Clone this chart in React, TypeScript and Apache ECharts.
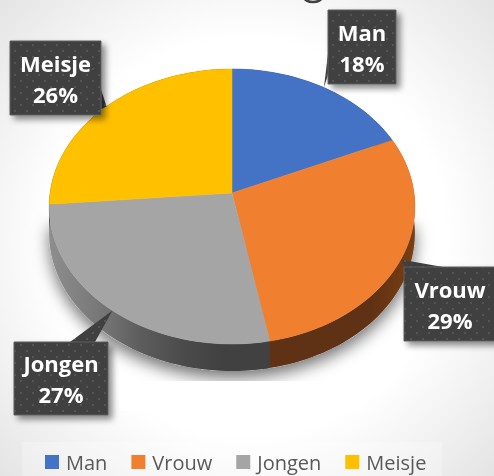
import React, { useEffect, useRef } from "react";
import * as echarts from "echarts";

const names = ["Man", "Vrouw", "Jongen", "Meisje"];
const values = [18.4, 28.6, 26.7, 26.3];
const faceColors = ["#4472C4", "#F07F30", "#A5A5A5", "#FFC000"];

const layout = { px: 232, py: 193, rx: 182, ry: 136.2, k: -0.098, wall: 27 };
const labelBoxes = [
  { x: 328, y: 10, w: 68, h: 74, tail: [[328, 54], [328, 75]] },
  { x: 404, y: 267, w: 92, h: 74, tail: [[405, 267], [443, 267]] },
  { x: 14, y: 342, w: 94, h: 73, tail: [[70, 342], [95, 342]] },
  { x: 10, y: 41, w: 91, h: 74, tail: [[100, 86], [100, 110]] },
];

const total = values.reduce((a, b) => a + b, 0);
const startOf = (i: number) => values.slice(0, i).reduce((a, b) => a + b, 0) / total;

function rim(frac: number, dy = 0): number[] {
  const t = frac * Math.PI * 2;
  const x = Math.sin(t);
  const y = -Math.cos(t);
  const d = 1 + layout.k * y;
  return [layout.px + (layout.rx * x) / d, layout.py + (layout.ry * y) / d + dy];
}
function arcPoints(a: number, b: number, dy = 0): number[][] {
  const n = Math.max(4, Math.ceil((b - a) * 200));
  const out: number[][] = [];
  for (let i = 0; i <= n; i++) out.push(rim(a + ((b - a) * i) / n, dy));
  return out;
}
function wallFill(i: number): any {
  if (i === 2) {
    return new echarts.graphic.LinearGradient(0, 0, 1, 0, [
      { offset: 0, color: "#8e8e8e" },
      { offset: 0.25, color: "#757575" },
      { offset: 0.42, color: "#5c5c5c" },
      { offset: 0.62, color: "#4a4a4a" },
      { offset: 0.78, color: "#414141" },
      { offset: 1, color: "#414141" },
    ]);
  }
  if (i === 1) {
    return new echarts.graphic.LinearGradient(0, 0, 1, 0, [
      { offset: 0, color: "#5f3115" },
      { offset: 0.7, color: "#5f3115" },
      { offset: 1, color: "#7a3f12" },
    ]);
  }
  return "#333333";
}
function dotTile(): HTMLCanvasElement {
  const c = document.createElement("canvas");
  c.width = 12;
  c.height = 12;
  const g = c.getContext("2d")!;
  g.fillStyle = "#404040";
  g.fillRect(0, 0, 12, 12);
  g.fillStyle = "#555555";
  g.fillRect(2, 2, 2, 2);
  g.fillRect(8, 8, 2, 2);
  return c;
}

export default function App() {
  const ref = useRef<HTMLDivElement>(null);
  useEffect(() => {
    const chart = echarts.init(ref.current!, undefined, { renderer: "svg" });
    const tile = dotTile();

    const sliceSeries = names.map((name, i) => ({
      type: "custom",
      name,
      coordinateSystem: "none",
      z: 3,
      silent: true,
      itemStyle: { color: faceColors[i] },
      data: [values[i]],
      renderItem: () => {
        const a = startOf(i);
        const b = a + values[i] / total + (i === 1 ? 0.004 : 0);
        const top = arcPoints(a, b);
        const low = arcPoints(a, b, layout.wall).reverse();
        return {
          type: "polygon",
          shape: { points: [...top, ...low] },
          style: { fill: wallFill(i) },
        };
      },
    }));
    const faceSeries = {
      type: "custom",
      coordinateSystem: "none",
      z: 4,
      silent: true,
      data: values,
      renderItem: (p: any, api: any) => {
        const i = p.dataIndex;
        const a = startOf(i);
        const b = a + api.value(0) / total;
        return {
          type: "polygon",
          shape: { points: [[layout.px, layout.py], ...arcPoints(a, b)] },
          style: { fill: faceColors[i], stroke: faceColors[i], lineWidth: 0.5 },
        };
      },
    };
    const shadowSeries = {
      type: "custom",
      coordinateSystem: "none",
      z: 1,
      silent: true,
      data: [total],
      renderItem: () => ({
        type: "polygon",
        shape: { points: arcPoints(0.25, 0.75, layout.wall) },
        style: {
          fill: "#cfcfcf",
          shadowColor: "rgba(0,0,0,0.55)",
          shadowBlur: 16,
          shadowOffsetX: 0,
          shadowOffsetY: 7,
        },
      }),
    };
    const labelSeries = {
      type: "custom",
      coordinateSystem: "none",
      z: 6,
      silent: true,
      data: values,
      renderItem: (p: any, api: any) => {
        const i = p.dataIndex;
        const box = labelBoxes[i];
        const tip = rim(startOf(i) + api.value(0) / total / 2);
        return {
          type: "group",
          children: [
            {
              type: "polygon",
              z2: 1,
              shape: { points: [...box.tail, tip] },
              style: { fill: { image: tile, repeat: "repeat" } },
            },
            {
              type: "rect",
              z2: 2,
              shape: { x: box.x, y: box.y, width: box.w, height: box.h },
              style: {
                fill: { image: tile, repeat: "repeat" },
                stroke: "#5e5e5e",
                lineWidth: 1,
                shadowColor: "rgba(0,0,0,0.45)",
                shadowBlur: 6,
                shadowOffsetX: 4,
                shadowOffsetY: 4,
              },
            },
            {
              type: "text",
              z2: 3,
              style: {
                x: box.x + box.w / 2,
                y: box.y + box.h / 2,
                text: `${names[i]}\n${Math.round(api.value(0))}%`,
                fill: "#ffffff",
                font: "700 22px 'Open Sans'",
                lineHeight: 31,
                align: "center",
                verticalAlign: "middle",
              },
            },
          ],
        };
      },
    };

    chart.setOption({
      animation: false,
      backgroundColor: "transparent",
      legend: {
        data: names,
        left: 40,
        top: 447,
        icon: "rect",
        itemWidth: 14,
        itemHeight: 14,
        itemGap: 24,
        selectedMode: false,
        textStyle: {
          fontFamily: "'Open Sans'",
          fontSize: 20,
          lineHeight: 20,
          color: "#595959",
          padding: [0, 0, 0, 2],
        },
      },
      graphic: [
        {
          type: "rect",
          z: 0,
          silent: true,
          shape: { x: 22, y: 442, width: 420, height: 34 },
          style: { fill: "rgba(255,255,255,0.25)" },
        },
        {
          type: "rect",
          z: 2,
          silent: true,
          shape: { x: 120, y: 381, width: 230, height: 30 },
          style: { fill: "#ffffff" },
        },
        {
          type: "ellipse",
          z: 0,
          silent: true,
          shape: { cx: 313, cy: -3, rx: 9, ry: 5 },
          style: { fill: "none", stroke: "#404040", lineWidth: 2.5 },
        },
      ],
      series: [shadowSeries, ...sliceSeries, faceSeries, labelSeries],
    } as any);
    return () => chart.dispose();
  }, []);
  return (
    <div
      style={{
        position: "fixed",
        left: 0,
        top: 0,
        width: 494,
        height: 476,
        background: "radial-gradient(circle at 50% 50%, #ffffff 58%, #e4e4e4 100%)",
      }}
    >
      <div ref={ref} style={{ width: 494, height: 476 }} />
    </div>
  );
}
